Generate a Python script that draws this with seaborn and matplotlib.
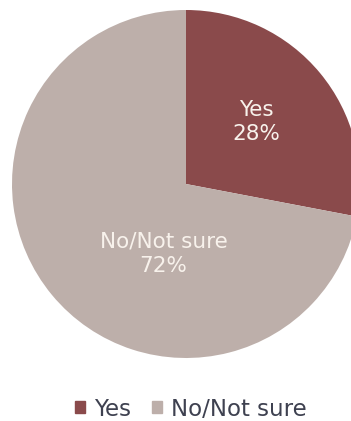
import matplotlib
matplotlib.use("Agg")
import matplotlib.pyplot as plt
import matplotlib.patches as mpatches
import seaborn as sns

categories = ["Yes", "No/Not sure"]
shares = [28, 72]
colors = ["#8a4a4b", "#bdafaa"]

sns.set_theme(style="white")
plt.rcParams["font.family"] = ["DejaVu Sans"]

W, H = 351, 421
fig = plt.figure(figsize=(W / 100, H / 100), dpi=100)
ax = fig.add_axes([0, 0, 1, 1])

wedges, _ = ax.pie(shares, colors=colors, startangle=90, counterclock=False,
                   radius=1.0, center=(0, 0),
                   wedgeprops=dict(linewidth=0))

# pie centre sits at (186, 184) px, radius 174 px
scale = 174.0
cx, cy = 186.0, 184.0
ax.set_xlim(-cx / scale, (W - cx) / scale)
ax.set_ylim(-(H - cy) / scale, cy / scale)
ax.set_aspect("auto")
ax.axis("off")

label_pos = [(0.405, 0.357), (-0.13, -0.40)]
for cat, val, (x, y) in zip(categories, shares, label_pos):
    ax.text(x, y, f"{cat}\n{val}%", ha="center", va="center",
            color="#f8f2ec", fontsize=15.5, linespacing=1.25)

handles = [mpatches.Patch(color=c, label=l) for c, l in zip(colors, categories)]
fig.legend(handles=handles, loc="center", bbox_to_anchor=(191 / W, 1 - 409 / H),
           ncol=2, frameon=False, fontsize=16.5, handlelength=0.45,
           handleheight=0.45, handletextpad=0.4, columnspacing=0.9,
           labelcolor="#3e4150")

fig.savefig("out.png", dpi=100)
